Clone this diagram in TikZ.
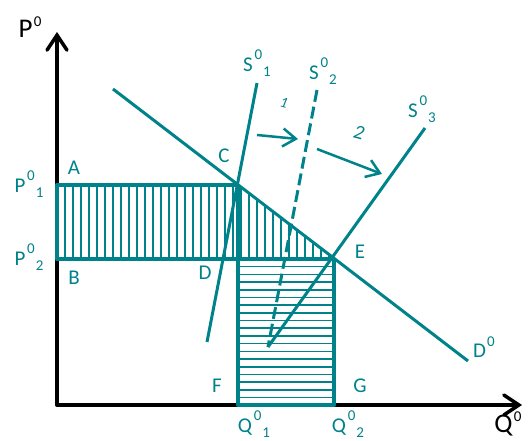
\documentclass[tikz,border=0pt]{standalone}
\usepackage{fontspec}
\setmainfont{Carlito}
\usepackage{tikz}
\usetikzlibrary{
  arrows.meta, % 开口箭头
  positioning  % 节点相对定位
}
\definecolor{tealline}{RGB}{0,130,138}

\tikzset{
  axisline/.style={black, line width=3.5pt, line cap=round,
    -{Straight Barb[length=15pt, width=20pt, line cap=round]}},
  supplyline/.style={tealline, line width=3pt},
  boxedge/.style={tealline, line width=4.5pt, line join=round},
  hatchline/.style={tealline, line width=1.6pt},
  movearrow/.style={tealline, line width=2.5pt,
    -{Straight Barb[length=13pt, width=18pt]}},
  lbl/.style={tealline, inner sep=0pt, font=\fontsize{21}{21}\selectfont},
  axislbl/.style={black, inner sep=0pt, font=\fontsize{27}{27}\selectfont}
}
% 上标在前、下标错开在后
\newcommand{\supsub}[3]{#1\kern0.08em\raisebox{12pt}{\fontsize{15}{15}\selectfont #2}%
  \kern0.05em\raisebox{-5pt}{\fontsize{15}{15}\selectfont #3}}
\newcommand{\suponly}[2]{#1\kern0.05em\raisebox{11pt}{\fontsize{15}{15}\selectfont #2}}

\begin{document}
\begin{tikzpicture}[x=1pt, y=-1pt]
    \useasboundingbox (0,0) rectangle (531,441);

    % --- 关键点 ---
    \coordinate (O)  at (57,405);
    \coordinate (Ptop) at (57,32);
    \coordinate (Qend) at (522,405);
    \coordinate (pA) at (57,185);
    \coordinate (pB) at (57,259);
    \coordinate (pC) at (238,185);
    \coordinate (pE) at (334,259);
    \coordinate (pF) at (238,405);
    \coordinate (pG) at (334,405);

    % --- 竖线阴影：矩形 ABDC 加三角形 CDE ---
    \begin{scope}
      \clip (pA) -- (pC) -- (pE) -- (pB) -- cycle;
      \foreach \x in {65,73,...,335}{
        \draw[hatchline] (\x,180) -- (\x,262);
      }
    \end{scope}

    % --- 横线阴影：矩形 DEGF ---
    \foreach \i in {1,...,18}{
      \draw[hatchline] (238,259+\i*7.7) -- (334,259+\i*7.7);
    }

    % --- 坐标轴 ---
    \draw[axisline] (O) -- (Ptop);
    \draw[axisline] (O) -- (Qend);

    % 阴影区边框
    \draw[boxedge] (pC) -- (pA) -- (pB) -- (pE);
    \draw[boxedge] (pC) -- (pF) -- (pG) -- (pE);

    % --- 需求曲线与供给曲线 ---
    \coordinate (dTop) at (113,89);
    \coordinate (dEnd) at (468,361);
    \coordinate (s1Top) at (257,83);
    \coordinate (s1Bot) at (207,342);
    \coordinate (s2Top) at (317,90);
    \coordinate (sBase) at (268,347);
    \coordinate (s3Top) at (425,128);
    \draw[supplyline] (dTop) -- (dEnd);
    \draw[supplyline] (s1Top) -- (s1Bot);
    \draw[supplyline, dash pattern=on 12pt off 5pt] (s2Top) -- (sBase);
    \draw[supplyline] (s3Top) -- (sBase);

    % --- 移动方向箭头 ---
    \coordinate (a1s) at (257,135);
    \coordinate (a1e) at (298,139);
    \coordinate (a2s) at (317,149);
    \coordinate (a2e) at (382,174);
    \draw[movearrow] (a1s) -- (a1e);
    \draw[movearrow] (a2s) -- (a2e);
    \node[lbl, font=\fontsize{15}{15}\selectfont\itshape, rotate=-15] (n1) at (284,103) {1};
    \node[lbl, font=\fontsize{20}{20}\selectfont\itshape, rotate=-15] (n2) at (359,133) {2};

    % --- 文字标注 ---
    \node[axislbl] (lP) at (30,27) {\suponly{P}{0}};
    \node[axislbl] (lQ) at (508,424) {\suponly{Q}{0}};
    \node[lbl] (lA) at (74,168) {A};
    \node[lbl] (lB) at (74,278) {B};
    \node[lbl] (lC) at (224,156) {C};
    \node[lbl] (lD) at (205,273) {D};
    \node[lbl] (lE) at (360,252) {E};
    \node[lbl] (lF) at (217,386) {F};
    \node[lbl] (lG) at (360,386) {G};
    \node[lbl] (lP1) at (29,184) {\supsub{P}{0}{1}};
    \node[lbl] (lP2) at (29,257) {\supsub{P}{0}{2}};
    \node[lbl] (lQ1) at (254,424) {\supsub{Q}{0}{1}};
    \node[lbl] (lQ2) at (348,424) {\supsub{Q}{0}{2}};
    \node[lbl] (lS1) at (257,63) {\supsub{S}{0}{1}};
    \node[lbl] (lS2) at (323,71) {\supsub{S}{0}{2}};
    \node[lbl] (lS3) at (422,109) {\supsub{S}{0}{3}};
    \node[lbl] (lD0) at (484,347) {\suponly{D}{0}};
\end{tikzpicture}
\end{document}
